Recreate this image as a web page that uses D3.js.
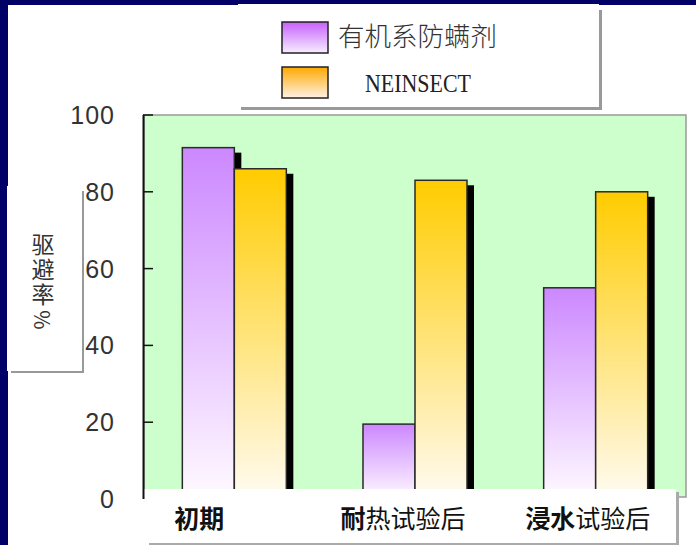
<!DOCTYPE html>
<html>
<head>
<meta charset="utf-8">
<script src="https://cdn.jsdelivr.net/npm/d3@7"></script>
<style>
  body { margin: 0; background: #fff; }
  svg { display: block; }
</style>
</head>
<body>
<div id="chart"></div>
<script>
const categories = ["初期", "耐热试验后", "浸水试验后"];
const boldChars = [2, 1, 2];
const seriesNames = ["有机系防螨剂", "NEINSECT"];
const organicValues = [91.5, 19.5, 55];
const neinsectValues = [86, 83, 80];
const yTicks = [0, 20, 40, 60, 80, 100];
const yTitle = "驱避率%";

const width = 696, height = 545;
const cjk = "'Noto Sans CJK SC', 'Noto Sans', sans-serif";

const svg = d3.select("#chart")
  .append("svg")
  .attr("width", width)
  .attr("height", height);

const defs = svg.append("defs");
function gradient(id, top, bottom) {
  const g = defs.append("linearGradient")
    .attr("id", id)
    .attr("x1", 0).attr("y1", 0)
    .attr("x2", 0).attr("y2", 1);
  g.append("stop").attr("offset", "0%").attr("stop-color", top);
  g.append("stop").attr("offset", "100%").attr("stop-color", bottom);
}
gradient("purpleBar", "#cc88ff", "#fffaff");
gradient("orangeBar", "#ffcc00", "#fffbf2");
gradient("purpleKey", "#c860ff", "#f6eeff");
gradient("orangeKey", "#ffa800", "#fff2e4");

// page frame
svg.append("rect").attr("x", 0).attr("y", 0).attr("width", width).attr("height", 5).attr("fill", "#000066");
svg.append("rect").attr("x", 0).attr("y", 0).attr("width", 8).attr("height", height).attr("fill", "#000066");

const yScale = d3.scaleLinear()
  .domain([0, 100])
  .range([499, 115]);

const xScale = d3.scaleBand()
  .domain(categories)
  .range([144, 686]);

const pairWidth = 104;
const xSub = d3.scaleBand()
  .domain([0, 1])
  .range([(xScale.bandwidth() - pairWidth) / 2, (xScale.bandwidth() + pairWidth) / 2]);

// plot area
svg.append("rect")
  .attr("x", 144)
  .attr("y", yScale(100))
  .attr("width", 542)
  .attr("height", yScale(0) - yScale(100) - 2)
  .attr("fill", "#ccffcc")
  .attr("stroke", "#999")
  .attr("stroke-width", 1.5);

const rows = categories.map((c, i) => ({ cat: c, vals: [organicValues[i], neinsectValues[i]] }));
const fills = ["url(#purpleBar)", "url(#orangeBar)"];

const groups = svg.selectAll(".group")
  .data(rows)
  .join("g")
  .attr("class", "group")
  .attr("transform", d => `translate(${xScale(d.cat)},0)`);

// shadows first, bars on top
groups.selectAll(".shadow")
  .data(d => d.vals)
  .join("rect")
  .attr("class", "shadow")
  .attr("x", (d, i) => xSub(i) + 7)
  .attr("y", d => yScale(d) + 5)
  .attr("width", xSub.bandwidth())
  .attr("height", d => yScale(0) - yScale(d) - 5)
  .attr("fill", "#000");

groups.selectAll(".bar")
  .data(d => d.vals)
  .join("rect")
  .attr("class", "bar")
  .attr("x", (d, i) => xSub(i))
  .attr("y", d => yScale(d))
  .attr("width", xSub.bandwidth())
  .attr("height", d => yScale(0) - yScale(d))
  .attr("fill", (d, i) => fills[i])
  .attr("stroke", "#2a2a2a")
  .attr("stroke-width", 1.5);

// ticks
svg.selectAll(".tick")
  .data(yTicks.filter(t => t > 0))
  .join("line")
  .attr("class", "tick")
  .attr("x1", 143)
  .attr("x2", 153)
  .attr("y1", d => yScale(d))
  .attr("y2", d => yScale(d))
  .attr("stroke", "#111")
  .attr("stroke-width", 1.5);

svg.selectAll(".ytick-label")
  .data(yTicks)
  .join("text")
  .attr("class", "ytick-label")
  .attr("x", 115)
  .attr("y", d => yScale(d))
  .attr("dy", "0.36em")
  .attr("text-anchor", "end")
  .attr("font-family", "'Liberation Sans', Arial, sans-serif")
  .attr("font-size", 25)
  .attr("letter-spacing", 1)
  .attr("fill", "#333")
  .text(d => d);

// y title box: CJK part written vertically, the % sign turned sideways
svg.append("rect").attr("x", 11).attr("y", 191).attr("width", 73).attr("height", 182).attr("fill", "#999");
svg.append("rect").attr("x", 7).attr("y", 186).attr("width", 75).attr("height", 185).attr("fill", "#fff");
const titleCjk = yTitle.replace(/[^\u4e00-\u9fff]/g, "");
const titleRest = yTitle.replace(/[\u4e00-\u9fff]/g, "");
svg.append("text")
  .attr("x", 43)
  .attr("y", 233)
  .style("writing-mode", "vertical-rl")
  .style("text-orientation", "upright")
  .attr("font-family", cjk)
  .attr("font-size", 23)
  .attr("letter-spacing", 2)
  .attr("fill", "#333")
  .text(titleCjk);
svg.append("text")
  .attr("transform", "translate(43,320) rotate(90)")
  .attr("text-anchor", "middle")
  .attr("dominant-baseline", "central")
  .attr("font-family", cjk)
  .attr("font-size", 21)
  .attr("fill", "#333")
  .text(titleRest);

// category label box
svg.append("rect").attr("x", 149).attr("y", 492).attr("width", 530).attr("height", 53).attr("fill", "#aaa");
svg.append("rect").attr("x", 143).attr("y", 489).attr("width", 533).attr("height", 54).attr("fill", "#fff");

const labelShift = [-35, -12, -8];
const labels = svg.selectAll(".xlabel")
  .data(categories)
  .join("text")
  .attr("class", "xlabel")
  .attr("x", (d, i) => xScale(d) + xScale.bandwidth() / 2 + labelShift[i])
  .attr("y", 528)
  .attr("text-anchor", "middle")
  .attr("font-family", cjk)
  .attr("font-size", 25)
  .attr("fill", "#111");
labels.append("tspan")
  .attr("font-weight", 700)
  .text((d, i) => d.slice(0, boldChars[i]));
labels.append("tspan")
  .attr("font-weight", 400)
  .text((d, i) => d.slice(boldChars[i]));

// left axis line
svg.append("line")
  .attr("x1", 143.5).attr("x2", 143.5)
  .attr("y1", yScale(100)).attr("y2", yScale(0))
  .attr("stroke", "#111")
  .attr("stroke-width", 2);

// legend
svg.append("rect").attr("x", 241).attr("y", 10).attr("width", 361).attr("height", 100).attr("fill", "#999");
svg.append("rect").attr("x", 238).attr("y", 4).attr("width", 361).attr("height", 103).attr("fill", "#fff");

const keyFills = ["url(#purpleKey)", "url(#orangeKey)"];
const keyY = [22, 67];
const legend = svg.selectAll(".key")
  .data(seriesNames)
  .join("g")
  .attr("class", "key")
  .attr("transform", (d, i) => `translate(282,${keyY[i]})`);

legend.append("rect")
  .attr("width", 46)
  .attr("height", 31)
  .attr("fill", (d, i) => keyFills[i])
  .attr("stroke", "#222")
  .attr("stroke-width", 1.5);

legend.filter((d, i) => i === 0)
  .append("text")
  .attr("x", 56)
  .attr("y", 24)
  .attr("font-family", cjk)
  .attr("font-size", 26.5)
  .attr("font-weight", 300)
  .attr("fill", "#333")
  .text(d => d);

legend.filter((d, i) => i === 1)
  .append("text")
  .attr("x", 83)
  .attr("y", 25)
  .attr("font-family", "'Liberation Serif', 'Times New Roman', serif")
  .attr("font-size", 26)
  .attr("textLength", 106)
  .attr("lengthAdjust", "spacingAndGlyphs")
  .attr("fill", "#222")
  .text(d => d);
</script>
</body>
</html>
